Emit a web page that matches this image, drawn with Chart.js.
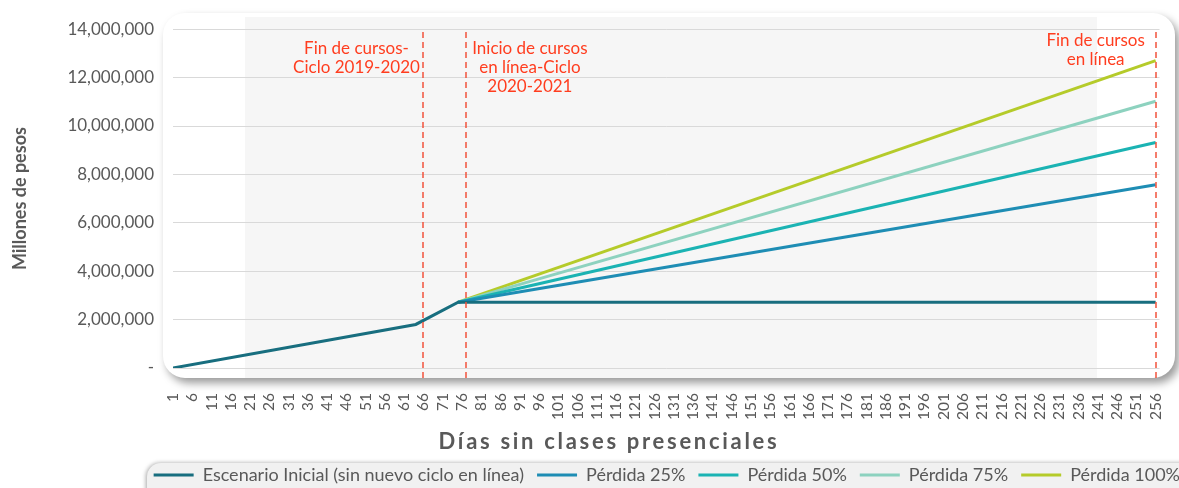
<!DOCTYPE html>
<html>
<head>
<meta charset="utf-8">
<script src="https://cdn.jsdelivr.net/npm/chart.js@4.4.1/dist/chart.umd.min.js"></script>
<style>
  html, body { margin: 0; padding: 0; background: #fff; }
</style>
</head>
<body>
<canvas id="chart" width="1179" height="488"></canvas>
<script>
// Series break points (day, pesos)
const baseDays = [1, 64, 75, 256];
const baseValues = [0, 1800000, 2720000, 2720000];

const lossDays = [75, 256];
const loss25 = [2720000, 7570000];
const loss50 = [2720000, 9320000];
const loss75 = [2720000, 11020000];
const loss100 = [2720000, 12700000];

const seriesNames = [
    'Escenario Inicial (sin nuevo ciclo en línea)',
    'Pérdida 25%',
    'Pérdida 50%',
    'Pérdida 75%',
    'Pérdida 100%'
];

const xTicks = [1, 6, 11, 16, 21, 26, 31, 36, 41, 46, 51, 56, 61, 66, 71, 76, 81, 86, 91, 96,
    101, 106, 111, 116, 121, 126, 131, 136, 141, 146, 151, 156, 161, 166, 171, 176, 181, 186, 191, 196,
    201, 206, 211, 216, 221, 226, 231, 236, 241, 246, 251, 256];

const xTitle = 'Días sin clases presenciales';
const yTitle = 'Millones de pesos';

// dashed red markers and their notes
const markerDays = [66, 77, 256];
const markerNotes = [
    ['Fin de cursos-', 'Ciclo 2019-2020'],
    ['Inicio de cursos', 'en línea-Ciclo', '2020-2021'],
    ['Fin de cursos', 'en línea']
];

const toPoints = (days, values) => days.map((d, i) => ({ x: d, y: values[i] }));

const gray = '#595959';
const fontFamily = 'Lato, "Open Sans", sans-serif';
Chart.defaults.font.family = fontFamily;
Chart.defaults.color = gray;

// rounded panel behind the plot and the legend strip
const panelPlugin = {
    id: 'panel',
    beforeDraw(chart) {
        const ctx = chart.ctx;
        ctx.save();
        ctx.shadowColor = 'rgba(0,0,0,0.4)';
        ctx.shadowBlur = 8;
        ctx.shadowOffsetY = 5;
        ctx.shadowOffsetX = 4;
        ctx.fillStyle = '#ffffff';
        ctx.beginPath();
        ctx.roundRect(163, 13, 1012, 365, 22);
        ctx.fill();
        ctx.restore();

        ctx.save();
        ctx.beginPath();
        ctx.roundRect(163, 13, 1012, 365, 22);
        ctx.clip();
        ctx.fillStyle = '#f6f6f6';
        ctx.fillRect(245, 17, 852, 361);
        ctx.restore();

        ctx.save();
        ctx.shadowColor = 'rgba(0,0,0,0.35)';
        ctx.shadowBlur = 4;
        ctx.shadowOffsetX = -1;
        ctx.fillStyle = '#f1f1f1';
        ctx.beginPath();
        ctx.roundRect(147, 463, 1080, 40, 14);
        ctx.fill();
        ctx.restore();
    }
};

const markerPlugin = {
    id: 'markers',
    afterDatasetsDraw(chart) {
        const ctx = chart.ctx;
        const x = chart.scales.x;
        ctx.save();
        ctx.strokeStyle = '#f2533d';
        ctx.lineWidth = 1.5;
        ctx.setLineDash([6, 4]);
        markerDays.forEach(d => {
            const px = Math.round(x.getPixelForValue(d));
            ctx.beginPath();
            ctx.moveTo(px, 32);
            ctx.lineTo(px, 381);
            ctx.stroke();
        });
        ctx.setLineDash([]);
        ctx.fillStyle = '#ff3d1f';
        ctx.font = '17px ' + fontFamily;
        ctx.textAlign = 'center';
        ctx.textBaseline = 'middle';
        const offsets = [[-67, 49], [64, 49], [-60, 41]];
        markerNotes.forEach((lines, i) => {
            const px = x.getPixelForValue(markerDays[i]);
            lines.forEach((t, j) => ctx.fillText(t, px + offsets[i][0], offsets[i][1] + j * 19));
        });

        // x axis title, sits left of the plot centre as in the source
        ctx.fillStyle = gray;
        ctx.font = 'bold 22px ' + fontFamily;
        if ('letterSpacing' in ctx) ctx.letterSpacing = '2.7px';
        ctx.fillText(xTitle, 609, 442);
        ctx.restore();
    }
};

const line = (label, data, color) => ({
    label,
    data,
    borderColor: color,
    backgroundColor: color,
    borderWidth: 3,
    pointRadius: 0,
    tension: 0,
    fill: false
});

new Chart(document.getElementById('chart'), {
    type: 'line',
    data: {
        datasets: [
            line(seriesNames[0], toPoints(baseDays, baseValues), '#186e7f'),
            line(seriesNames[1], toPoints(lossDays, loss25), '#1e8db4'),
            line(seriesNames[2], toPoints(lossDays, loss50), '#1bb3b3'),
            line(seriesNames[3], toPoints(lossDays, loss75), '#8dd2bf'),
            line(seriesNames[4], toPoints(lossDays, loss100), '#b5cb2a')
        ]
    },
    options: {
        responsive: false,
        animation: false,
        layout: { padding: { left: 0, right: -14, top: 26, bottom: 0 } },
        scales: {
            x: {
                type: 'linear',
                min: 1,
                max: 257,
                afterBuildTicks: axis => { axis.ticks = xTicks.map(v => ({ value: v })); },
                afterFit: axis => {
                    axis.height = 85;
                    axis.paddingLeft = 0;
                    axis.paddingRight = 0;
                },
                grid: { display: false, drawTicks: false },
                border: { display: false },
                ticks: {
                    autoSkip: false,
                    minRotation: 90,
                    maxRotation: 90,
                    padding: 25,
                    font: { size: 15.5 },
                    callback: v => String(v)
                },
                title: { display: false, text: xTitle }
            },
            y: {
                min: 0,
                max: 14000000,
                afterFit: axis => { axis.width = 173; },
                grid: { color: '#d9d9d9', lineWidth: 1, drawTicks: false },
                border: { display: false },
                ticks: {
                    stepSize: 2000000,
                    padding: 19,
                    font: { size: 17 },
                    callback: v => v === 0 ? '-' : v.toLocaleString('en-US')
                },
                title: {
                    display: true,
                    text: yTitle,
                    font: { size: 18, weight: 'bold' },
                    padding: { top: 9.2, bottom: 0 }
                }
            },
            yRight: {
                position: 'right',
                display: true,
                afterFit: axis => { axis.width = 33.5; },
                grid: { display: false, drawTicks: false },
                border: { display: false },
                ticks: { display: false }
            }
        },
        plugins: {
            legend: {
                position: 'bottom',
                align: 'end',
                maxHeight: 35,
                labels: {
                    usePointStyle: true,
                    pointStyle: 'line',
                    pointStyleWidth: 40,
                    padding: 13,
                    font: { size: 18 },
                    color: gray
                }
            },
            tooltip: { enabled: false }
        }
    },
    plugins: [panelPlugin, markerPlugin]
});
</script>
</body>
</html>
